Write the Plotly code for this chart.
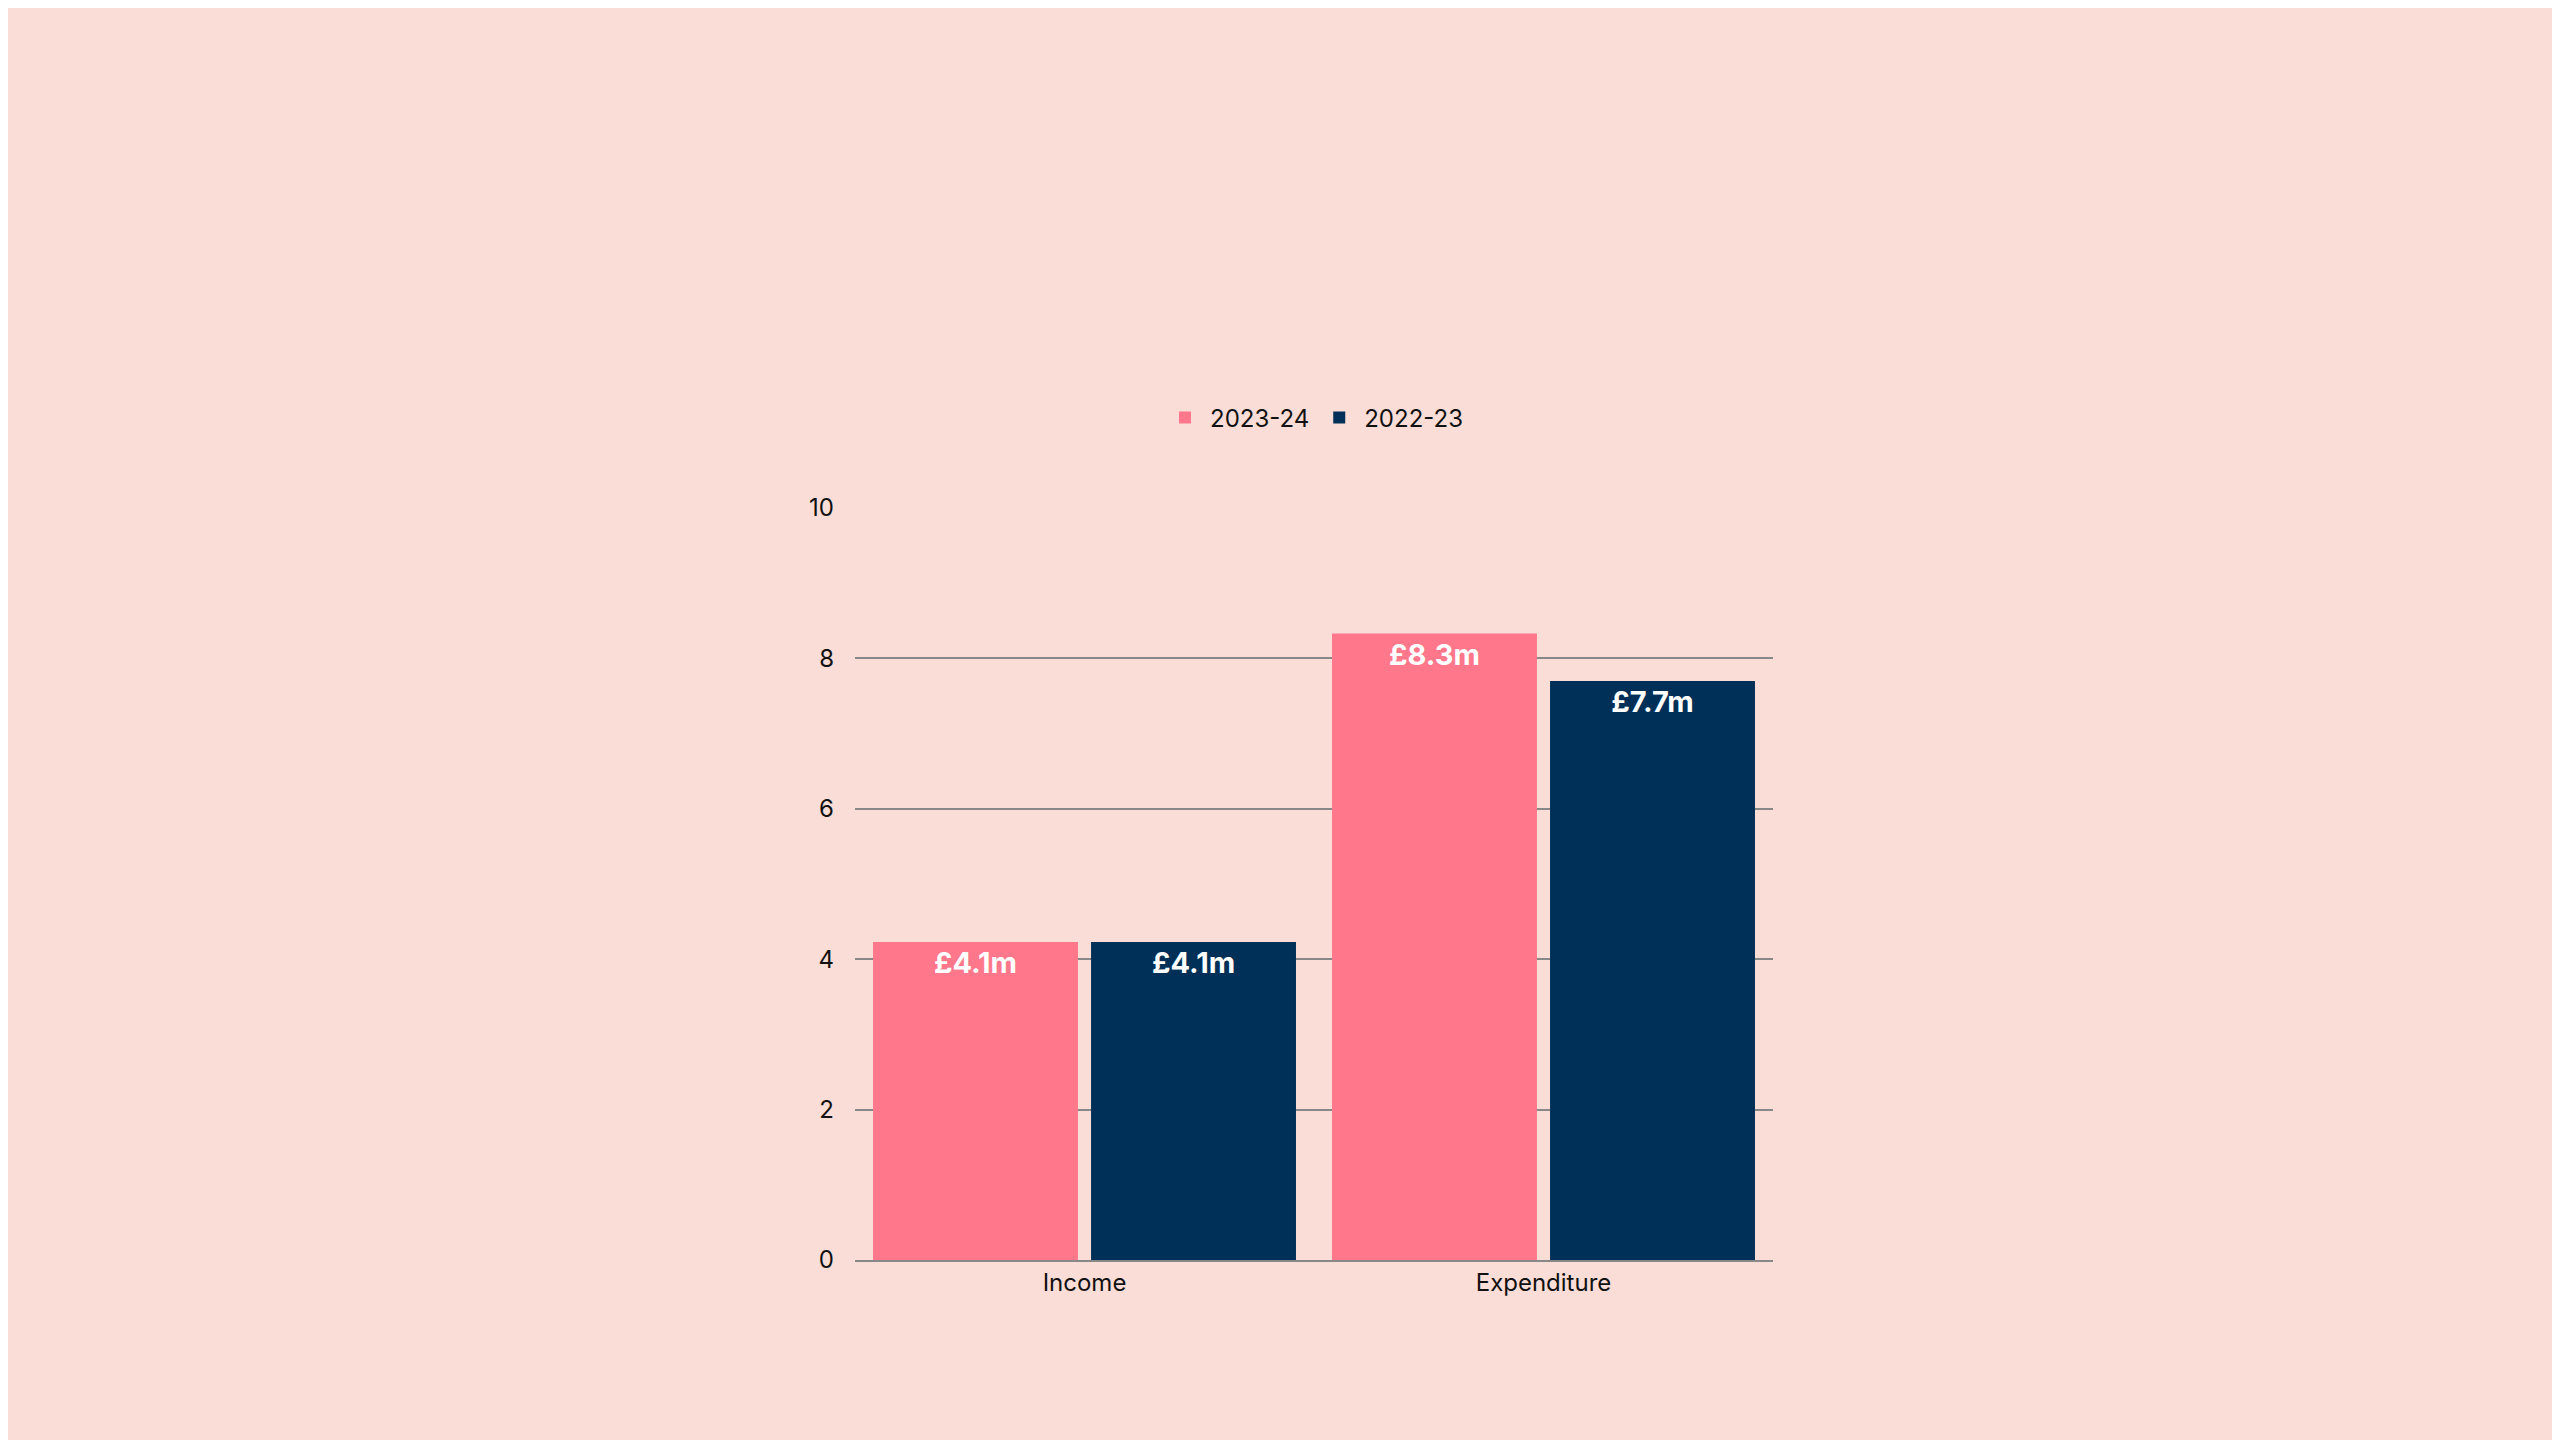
import plotly.graph_objects as go

categories = ['Income', 'Expenditure']
values_2324 = [4.23, 8.33]
values_2223 = [4.23, 7.7]
labels_2324 = ['£4.1m', '£8.3m']
labels_2223 = ['£4.1m', '£7.7m']

bg = '#F9DDD6'
font = 'Inter'

fig = go.Figure()
fig.add_trace(go.Bar(x=categories, y=values_2324, name='2023-24', marker_color='#FF778B',
                     text=labels_2324, textposition='inside', insidetextanchor='end'))
fig.add_trace(go.Bar(x=categories, y=values_2223, name='2022-23', marker_color='#003057',
                     text=labels_2223, textposition='inside', insidetextanchor='end'))

fig.update_traces(textfont=dict(family=font, size=29, color='white', weight='bold'),
                  textangle=0, marker_line_width=0)

fig.update_layout(
    width=2560, height=1440,
    paper_bgcolor=bg, plot_bgcolor=bg,
    font=dict(family=font, size=24, color='#111111'),
    barmode='group', bargap=0.05, bargroupgap=0.06,
    margin=dict(l=847, r=795, t=500, b=188),
    legend=dict(orientation='h', x=0.5, xanchor='center', y=1.09, yanchor='bottom',
                font=dict(size=24), itemwidth=40),
    xaxis=dict(showline=True, linecolor='#888888', linewidth=2, ticks='', showgrid=False),
    yaxis=dict(range=[0, 10], dtick=2, showgrid=True, gridcolor='#888888', gridwidth=2,
               zeroline=False, ticklabelstandoff=20),
)

fig.write_html("out.html")
